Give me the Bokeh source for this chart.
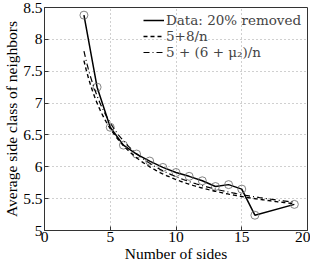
import numpy as np
from bokeh.plotting import figure
from bokeh.models import Legend, LegendItem, FixedTicker, CustomJSTickFormatter
from bokeh.embed import file_html
from bokeh.resources import INLINE

# data
sides = [3, 4, 5, 6, 7, 8, 9, 10, 11, 12, 13, 14, 15, 16, 19]
avg_neighbors = [8.38, 7.25, 6.62, 6.34, 6.20, 6.09, 5.99, 5.91, 5.85, 5.78, 5.69, 5.72, 5.65, 5.24, 5.41]
mu2 = 2.45
x_ticks = [0, 5, 10, 15, 20]
y_ticks = [5, 5.5, 6, 6.5, 7, 7.5, 8, 8.5]
legend_labels = ["Data: 20% removed", "5+8/n", "5 + (6 + μ₂)/n"]

n = np.linspace(3, 19, 200)
fit1 = 5 + 8 / n
fit2 = 5 + (6 + mu2) / n

FONT = "Liberation Serif"
LEG_FONT = "DejaVu Serif"
FRAME_H = 223

p = figure(width=301, height=265, x_range=(0, 20), y_range=(5, 8.5),
           output_backend="svg", toolbar_location=None,
           min_border_left=35, min_border_right=3, min_border_top=7, min_border_bottom=35)
p.frame_width = 263
p.frame_height = FRAME_H

p.background_fill_color = "white"
p.border_fill_color = "white"
p.outline_line_color = "#333333"
p.outline_line_width = 1

l_data = p.line(sides, avg_neighbors, line_color="black", line_width=1.5)
p.scatter(sides, avg_neighbors, marker="circle", size=8, fill_color=None,
          line_color="#666666", line_width=0.8)
l1 = p.line(n, fit1, line_color="black", line_width=1.4, line_dash="4 3")
l2 = p.line(n, fit2, line_color="black", line_width=1.2, line_dash="6 3 1 3")

for ax in (p.xaxis[0], p.yaxis[0]):
    ax.major_label_text_font = FONT
    ax.major_label_text_font_size = "15.5px"
    ax.major_label_text_color = "black"
    ax.axis_label_text_font = FONT
    ax.axis_label_text_font_size = "15.5px"
    ax.axis_label_text_font_style = "normal"
    ax.axis_label_text_color = "black"
    ax.major_tick_in = 4
    ax.major_tick_out = 0
    ax.minor_tick_line_color = None
    ax.axis_line_color = "#333333"
    ax.major_tick_line_color = "#333333"

p.xaxis.ticker = FixedTicker(ticks=x_ticks)
p.yaxis.ticker = FixedTicker(ticks=y_ticks)
p.yaxis.formatter = CustomJSTickFormatter(code="return String(tick);")
p.xaxis.formatter = CustomJSTickFormatter(code="return String(tick);")
p.xaxis.axis_label = "Number of sides"
p.yaxis.axis_label = "Average side class of neighbors"
p.xaxis.major_label_standoff = 1
p.yaxis.major_label_standoff = 2
p.xaxis.axis_label_standoff = 0
p.yaxis.axis_label_standoff = 0

p.grid.grid_line_color = "#a0a0a0"
p.grid.grid_line_dash = "1 3"
p.grid.grid_line_width = 1

# one single-row legend per entry so the row spacing matches the reference
ROW_H = 16
row_offsets = [13, 29, 45]
for label, rend, off in zip(legend_labels, [l_data, l1, l2], row_offsets):
    lg = Legend(items=[LegendItem(label=label, renderers=[rend])],
                location=(99, FRAME_H - off - ROW_H // 2))
    lg.label_text_font = LEG_FONT
    lg.label_text_font_size = "13.5px"
    lg.label_height = ROW_H
    lg.glyph_height = ROW_H
    lg.glyph_width = 21
    lg.spacing = 0
    lg.padding = 0
    lg.margin = 0
    lg.label_standoff = 2
    lg.border_line_color = None
    lg.background_fill_alpha = 0
    p.add_layout(lg)

open("out.html", "w").write(file_html(p, INLINE))
